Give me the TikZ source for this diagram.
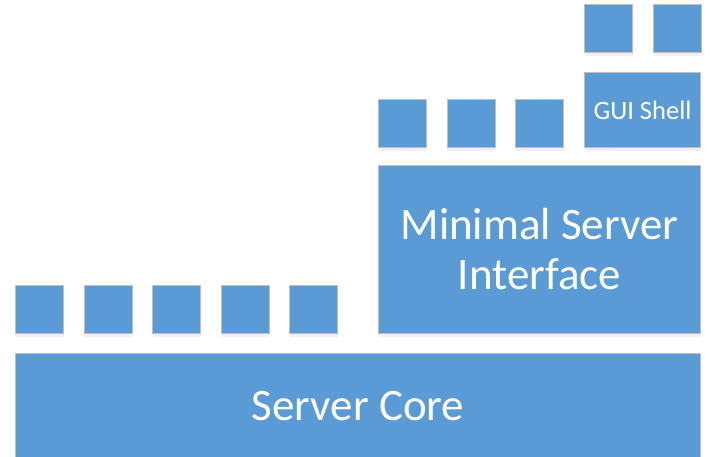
\documentclass[tikz,border=0pt]{standalone}
\usepackage{fontspec}
\setmainfont{Carlito}
\usetikzlibrary{positioning,shadows}
\definecolor{boxblue}{HTML}{5B9BD5}
\definecolor{boxline}{HTML}{BFBFBF}
\begin{document}
\begin{tikzpicture}
[x=1pt, y=-1pt,
 every node/.style={draw=boxline, line width=1pt, fill=boxblue, text=white,
   inner sep=0pt, anchor=north west,
   drop shadow={opacity=0.12, shadow xshift=0pt, shadow yshift=-3pt}},
 square/.style={minimum width=48pt, minimum height=48pt},
 node distance=19.5pt]
\useasboundingbox (0,0) rectangle (711,456);

\node[minimum width=685pt, minimum height=106pt, font=\fontsize{45}{50}\selectfont]
  (core) at (15,353) {Server Core};

% bottom row of squares
\node[square] (c1) at (15,285) {};
\node[square, right=of c1] (c2) {};
\node[square, right=of c2] (c3) {};
\node[square, right=of c3] (c4) {};
\node[square, right=of c4] (c5) {};

\node[minimum width=322pt, minimum height=168pt, align=center,
      font=\fontsize{45}{50}\selectfont]
  (msi) at (378,165) {Minimal Server\\Interface};

% squares on the interface
\node[square] (m1) at (378,99) {};
\node[square, right=of m1] (m2) {};
\node[square, right=of m2] (m3) {};

\node[minimum width=116pt, minimum height=75pt, font=\fontsize{26.5}{30}\selectfont]
  (gui) at (584,72) {GUI Shell};

% squares on the shell
\node[square] (g1) at (584,4) {};
\node[square, right=of g1] (g2) {};
\end{tikzpicture}
\end{document}
